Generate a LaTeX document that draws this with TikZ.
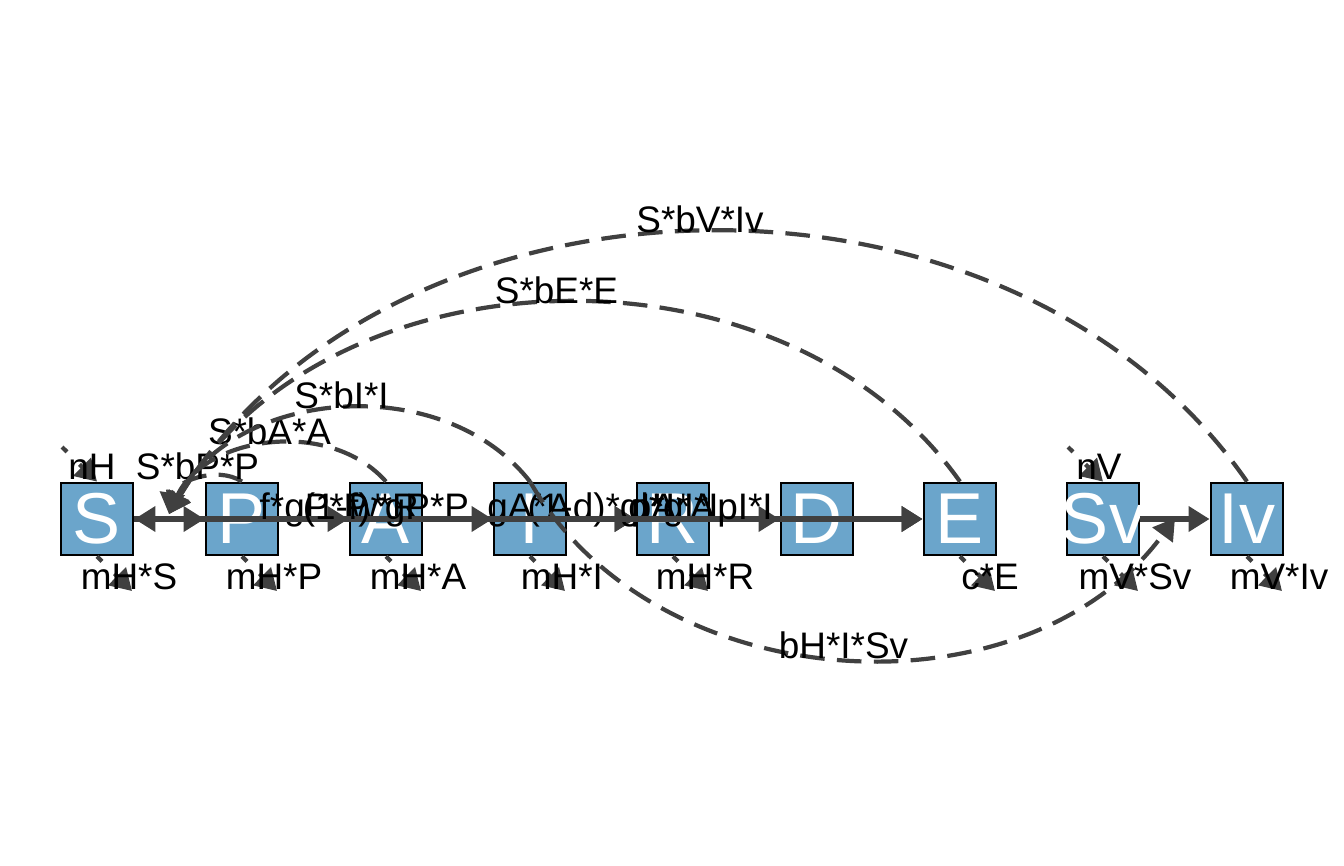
\documentclass[tikz,border=0pt]{standalone}
\usepackage{fontspec}
\setmainfont{Liberation Sans}
\usepackage{xcolor}
\usepackage{tikz}
\usetikzlibrary{arrows.meta}

\definecolor{compfill}{RGB}{107,165,203}
\definecolor{flowgray}{RGB}{64,64,64}

\tikzset{
    comp/.style={draw=black, line width=0.8pt, fill=compfill, minimum size=0.72cm,
        inner sep=0pt, text=white, font=\fontsize{20.5}{20.5}\selectfont},
    flowarrow/.style={-{Triangle[length=6pt,width=7pt]}, line width=1.6pt, draw=flowgray},
    interarrow/.style={-{Triangle[length=6pt,width=7pt]}, line width=1.2pt, draw=flowgray,
        dash pattern=on 7pt off 3.5pt},
    smallarrow/.style={-{Triangle[length=6pt,width=7pt]}, line width=1.2pt, draw=flowgray,
        dash pattern=on 2pt off 5pt},
    flowlab/.style={font=\fontsize{10.5}{12}\selectfont, text=black, anchor=base, inner sep=0pt},
    smalllab/.style={font=\fontsize{10.5}{12}\selectfont, text=black, inner sep=0pt},
}

\begin{document}
\begin{tikzpicture}
    \useasboundingbox (0,0) rectangle (13.44,-8.65);
    % compartments
    \node[comp] at (0.97, -5.19) (S) {S};
    \node[comp] at (2.42, -5.19) (P) {P};
    \node[comp] at (3.86, -5.19) (A) {A};
    \node[comp] at (5.30, -5.19) (I) {I};
    \node[comp] at (6.73, -5.19) (R) {R};
    \node[comp] at (8.17, -5.19) (D) {D};
    \node[comp] at (9.60, -5.19) (E) {E};
    \node[comp] at (11.03, -5.19) (Sv) {\makebox[0pt]{Sv}};
    \node[comp] at (12.47, -5.19) (Iv) {Iv};
    % where the interaction arrows end
    \coordinate (SP) at (1.69, -5.14);
    \coordinate (SvIv) at (11.75, -5.18);
    % flows between compartments
    \draw[flowarrow] (S.east) -- (P.west);
    \draw[flowarrow] (R.west) -- node[flowlab] {w*R} (S.east);
    \draw[flowarrow] (P.east) -- node[flowlab] {f*gP*P} (A.west);
    \draw[flowarrow] (P.east) -- node[flowlab] {(1-f)*gP*P} (I.west);
    \draw[flowarrow] (A.east) -- node[flowlab] {gA*A} (R.west);
    \draw[flowarrow] (I.east) -- node[flowlab] {(1-d)*gI*I} (R.west);
    \draw[flowarrow] (I.east) -- node[flowlab] {d*gI*I} (D.west);
    \draw[flowarrow] (A.east) -- node[flowlab] {pA*A} (E.west);
    \draw[flowarrow] (I.east) -- node[flowlab] {pI*I} (E.west);
    \draw[flowarrow] (Sv.east) -- (Iv.west);
    % interactions
    \draw[interarrow] (P.north) to[bend right=57] node[flowlab] {S*bP*P} (SP);
    \draw[interarrow] (A.north) to[bend right=57] node[flowlab] {S*bA*A} (SP);
    \draw[interarrow] (I.north) to[bend right=57] node[flowlab] {S*bI*I} (SP);
    \draw[interarrow] (E.north) to[bend right=57] node[flowlab] {S*bE*E} (SP);
    \draw[interarrow] (Iv.north) to[bend right=57] node[flowlab] {S*bV*Iv} (SP);
    \draw[interarrow] (I.north) to[bend right=57] node[flowlab] {bH*I*Sv} (SvIv);
    % births
    \coordinate (nHin) at (0.62, -4.47);
    \coordinate (nVin) at (10.68, -4.47);
    \draw[smallarrow] (nHin) -- (S.north);
    \draw[smallarrow] (nVin) -- (Sv.north);
    \node[smalllab] at (0.92, -4.665) (nHlab) {nH};
    \node[smalllab] at (10.99, -4.665) (nVlab) {nV};
    % deaths and decay
    \coordinate (Sout) at (1.32, -5.91);
    \coordinate (Pout) at (2.77, -5.91);
    \coordinate (Aout) at (4.21, -5.91);
    \coordinate (Iout) at (5.65, -5.91);
    \coordinate (Rout) at (7.08, -5.91);
    \coordinate (Eout) at (9.95, -5.91);
    \coordinate (Svout) at (11.38, -5.91);
    \coordinate (Ivout) at (12.82, -5.91);
    \draw[smallarrow] (S.south) -- (Sout);
    \draw[smallarrow] (P.south) -- (Pout);
    \draw[smallarrow] (A.south) -- (Aout);
    \draw[smallarrow] (I.south) -- (Iout);
    \draw[smallarrow] (R.south) -- (Rout);
    \draw[smallarrow] (E.south) -- (Eout);
    \draw[smallarrow] (Sv.south) -- (Svout);
    \draw[smallarrow] (Iv.south) -- (Ivout);
    \node[smalllab] at (1.29, -5.765) (mHSlab) {mH*S};
    \node[smalllab] at (2.74, -5.765) (mHPlab) {mH*P};
    \node[smalllab] at (4.18, -5.765) (mHAlab) {mH*A};
    \node[smalllab] at (5.62, -5.765) (mHIlab) {mH*I};
    \node[smalllab] at (7.05, -5.765) (mHRlab) {mH*R};
    \node[smalllab] at (9.90, -5.765) (cElab) {c*E};
    \node[smalllab] at (11.35, -5.765) (mVSvlab) {mV*Sv};
    \node[smalllab] at (12.79, -5.765) (mVIvlab) {mV*Iv};
\end{tikzpicture}
\end{document}
